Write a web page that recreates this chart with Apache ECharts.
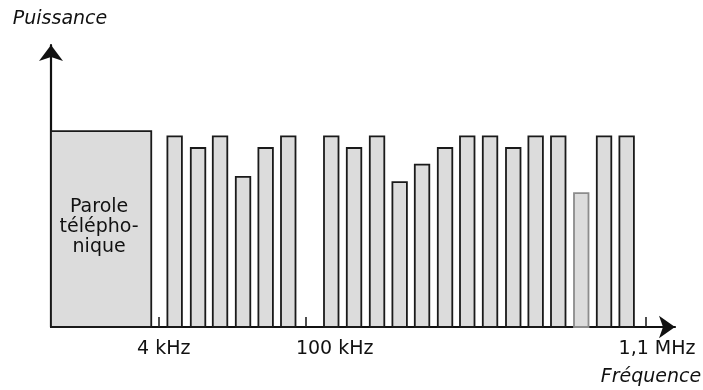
<!DOCTYPE html>
<html>
<head>
<meta charset="utf-8">
<script src="https://cdn.jsdelivr.net/npm/echarts@6/dist/echarts.min.js"></script>
<style>
html,body{margin:0;padding:0;background:#fff}
#main{width:703px;height:390px}
</style>
</head>
<body>
<div id="main"></div>
<script>
// bande de la parole (0 - 4 kHz) : debut, fin, niveau
var voiceBand = [0, 100.25];
var voiceLevel = 100;
var voiceText = 'Parole\ntélépho-\nnique';

// canaux : debut de bande, niveau (unites arbitraires)
var chanStart = [116.4, 139.8, 161.8, 184.8, 207.4, 230, 273, 295.8, 318.8, 341.4,
                 363.8, 386.8, 409, 431.8, 455, 477.4, 500, 523, 545.8, 568.4];
var chanLevel = [97.3, 91.4, 97.3, 76.7, 91.4, 97.3, 97.3, 91.4, 97.3, 74.0,
                 82.9, 91.4, 97.3, 97.3, 91.4, 97.3, 97.3, 68.4, 97.3, 97.3];
var chanWidth = 14.5;

// graduations et libelles de l'axe des frequences
var tickPos = [107.7, 255, 594.7];
var labelPos = [112.7, 283.7, 606];
var labelText = ['4 kHz', '100 kHz', '1,1 MHz'];

var FAINT = 17; // canal au contour plus clair
var FONT = 'DejaVu Sans';

var chanData = [];
for (var i = 0; i < chanStart.length; i++) {
    chanData.push([chanStart[i], chanStart[i] + chanWidth, chanLevel[i]]);
}

function bandRect(api) {
    var top = api.coord([api.value(0), api.value(2)]);
    var bot = api.coord([api.value(1), 0]);
    return {x: top[0], y: top[1], width: bot[0] - top[0], height: bot[1] - top[1]};
}

var myChart = echarts.init(document.getElementById('main'));
myChart.setOption({
    animation: false,
    grid: {left: 51, right: 28, top: 45, bottom: 63},
    xAxis: {
        type: 'value',
        min: 0,
        max: 624,
        splitLine: {show: false},
        axisLine: {
            show: true,
            symbol: ['none', 'arrow'],
            symbolSize: [17, 16],
            lineStyle: {color: '#111', width: 2.2}
        },
        axisTick: {
            show: true,
            customValues: tickPos,
            inside: true,
            length: 10,
            lineStyle: {color: '#222', width: 1.6}
        },
        axisLabel: {
            customValues: labelPos,
            formatter: function(v) {
                var k = labelPos.indexOf(v);
                return k < 0 ? '' : labelText[k];
            },
            fontSize: 19,
            fontFamily: FONT,
            color: '#111',
            margin: 13
        }
    },
    yAxis: {
        type: 'value',
        min: 0,
        max: 144,
        splitLine: {show: false},
        axisTick: {show: false},
        axisLabel: {show: false},
        axisLine: {
            show: true,
            symbol: ['none', 'arrow'],
            symbolSize: [18, 16],
            lineStyle: {color: '#111', width: 2.2}
        }
    },
    graphic: [
        {type: 'text', x: 60, y: 19, style: {text: 'Puissance', align: 'center', verticalAlign: 'middle',
            fontSize: 19, fontFamily: FONT, fontStyle: 'italic', fill: '#111'}},
        {type: 'text', x: 651, y: 377, style: {text: 'Fréquence', align: 'center', verticalAlign: 'middle',
            fontSize: 19, fontFamily: FONT, fontStyle: 'italic', fill: '#111'}}
    ],
    series: [
        {
            type: 'custom',
            data: [[voiceBand[0], voiceBand[1], voiceLevel]],
            renderItem: function(params, api) {
                var r = bandRect(api);
                return {
                    type: 'group',
                    children: [
                        {type: 'rect', shape: r, style: {fill: '#dcdcdc', stroke: '#1a1a1a', lineWidth: 1.8}},
                        {type: 'text', x: r.x + r.width / 2 - 2, y: r.y + r.height / 2 - 2,
                            style: {text: voiceText, align: 'center', verticalAlign: 'middle',
                                fontSize: 19, fontFamily: FONT, lineHeight: 20, fill: '#111'}}
                    ]
                };
            }
        },
        {
            type: 'custom',
            data: chanData,
            renderItem: function(params, api) {
                return {
                    type: 'rect',
                    shape: bandRect(api),
                    style: {
                        fill: '#dcdcdc',
                        stroke: params.dataIndex === FAINT ? '#8c8c8c' : '#1a1a1a',
                        lineWidth: 1.8
                    }
                };
            }
        }
    ]
});
</script>
</body>
</html>
